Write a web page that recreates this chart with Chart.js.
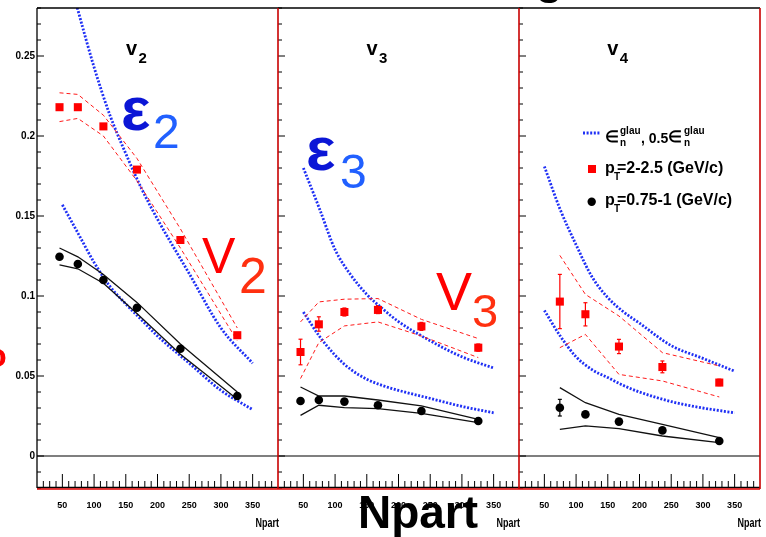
<!DOCTYPE html>
<html>
<head>
<meta charset="utf-8">
<script src="https://cdn.jsdelivr.net/npm/chart.js@4.4.0/dist/chart.umd.min.js"></script>
<style>
  html, body { margin: 0; padding: 0; background: #fff; }
  #wrap { position: relative; width: 766px; height: 537px; }
</style>
</head>
<body>
<div id="wrap"><canvas id="flow-chart" width="766" height="537"></canvas></div>
<script>
// Npart of the centrality bins; v4 has no point for the most peripheral bin
const npart6 = [45.5, 74.4, 114.7, 167.6, 236.1, 325.8];
const npart5 = [74.4, 114.7, 167.6, 236.1, 325.8];
const glauberX = [50, 75, 100, 125, 150, 175, 200, 250, 300, 350];

// v2
const v2High = [0.218, 0.218, 0.206, 0.179, 0.135, 0.0755];
const v2HighUp = [0.227, 0.226, 0.213, 0.186, 0.142, 0.080];
const v2HighDown = [0.209, 0.211, 0.200, 0.172, 0.130, 0.072];
const v2Low = [0.1245, 0.120, 0.110, 0.0927, 0.067, 0.0375];
const v2LowUp = [0.130, 0.1245, 0.1135, 0.096, 0.070, 0.040];
const v2LowDown = [0.1195, 0.117, 0.108, 0.089, 0.0636, 0.0354];
const eps2 = [0.315, 0.278, 0.243, 0.213, 0.189, 0.167, 0.148, 0.114, 0.080, 0.058];
const eps2Half = [0.157, 0.139, 0.121, 0.106, 0.095, 0.085, 0.075, 0.058, 0.041, 0.029];

// v3
const v3High = [0.065, 0.0823, 0.090, 0.0913, 0.081, 0.0677];
const v3HighErrLo = [0.057, 0.078, 0.0875, 0.089, 0.0785, 0.0655];
const v3HighErrHi = [0.073, 0.087, 0.0925, 0.094, 0.0835, 0.070];
const v3HighUp = [0.0838, 0.0963, 0.098, 0.0984, 0.0854, 0.0734];
const v3HighDown = [0.0484, 0.0709, 0.0813, 0.0838, 0.075, 0.0615];
const v3Low = [0.0344, 0.035, 0.034, 0.0317, 0.0281, 0.0219];
const v3LowUp = [0.0431, 0.0375, 0.0375, 0.035, 0.0313, 0.0229];
const v3LowDown = [0.0254, 0.0317, 0.0302, 0.0296, 0.0267, 0.0208];
const eps3 = [0.180, 0.155, 0.129, 0.113, 0.101, 0.092, 0.084, 0.072, 0.062, 0.055];
const eps3Half = [0.090, 0.075, 0.063, 0.054, 0.048, 0.044, 0.041, 0.036, 0.031, 0.027];

// v4
const v4High = [0.0965, 0.0886, 0.0684, 0.0556, 0.0459];
const v4HighErrLo = [0.0796, 0.0813, 0.064, 0.052, 0.044];
const v4HighErrHi = [0.1135, 0.0958, 0.0729, 0.0594, 0.048];
const v4HighUp = [0.1254, 0.101, 0.0875, 0.0646, 0.0563];
const v4HighDown = [0.0677, 0.076, 0.051, 0.0469, 0.0369];
const v4Low = [0.0302, 0.026, 0.0215, 0.016, 0.0094];
const v4LowErrLo = [0.025, 0.0245, 0.020, 0.0148, 0.0085];
const v4LowErrHi = [0.0354, 0.0275, 0.023, 0.0172, 0.0103];
const v4LowUp = [0.0427, 0.0333, 0.026, 0.0198, 0.0115];
const v4LowDown = [0.0167, 0.0188, 0.0171, 0.0125, 0.0083];
const eps4 = [0.181, 0.154, 0.132, 0.112, 0.099, 0.090, 0.083, 0.069, 0.061, 0.053];
const eps4Half = [0.091, 0.075, 0.062, 0.054, 0.049, 0.044, 0.040, 0.034, 0.030, 0.027];

// axis ticks
const xTickValues = [50, 100, 150, 200, 250, 300, 350];
const yTickValues = [0, 0.05, 0.1, 0.15, 0.2, 0.25];
const yTickLabels = ['0', '0.05', '0.1', '0.15', '0.2', '0.25'];

const X_MIN = 10;
const X_SPAN = 380;
const FONT = '"Liberation Sans", Arial, Helvetica, sans-serif';
const BLUE = '#1f30f5';
const RED = '#ff1a1a';
const DOTS = [2, 1.6];

// shift a panel's Npart values onto the shared x axis
function pts(xs, ys, panel) {
    return xs.map((x, i) => ({ x: x - X_MIN + panel * X_SPAN, y: ys[i] }));
}

function panelSets(p, s) {
    return [
        { data: pts(s.x, s.high, p), showLine: false, pointStyle: 'rect', pointRadius: 5.7,
          pointBackgroundColor: '#ff0000', pointBorderWidth: 0, errLow: s.highLo, errHigh: s.highHi, errColor: '#ff0000' },
        { data: pts(s.x, s.low, p), showLine: false, pointStyle: 'circle', pointRadius: 4.3,
          pointBackgroundColor: '#000', pointBorderWidth: 0, errLow: s.lowLo, errHigh: s.lowHi, errColor: '#000' },
        { data: pts(s.x, s.highUp, p), borderColor: RED, borderWidth: 1, borderDash: [4, 3], pointRadius: 0 },
        { data: pts(s.x, s.highDown, p), borderColor: RED, borderWidth: 1, borderDash: [4, 3], pointRadius: 0 },
        { data: pts(s.x, s.lowUp, p), borderColor: '#111', borderWidth: 1.3, pointRadius: 0 },
        { data: pts(s.x, s.lowDown, p), borderColor: '#111', borderWidth: 1.3, pointRadius: 0 },
        { data: pts(glauberX, s.eps, p), borderColor: BLUE, borderWidth: 2.8, borderDash: DOTS,
          pointRadius: 0, cubicInterpolationMode: 'monotone' },
        { data: pts(glauberX, s.epsHalf, p), borderColor: BLUE, borderWidth: 2.8, borderDash: DOTS,
          pointRadius: 0, cubicInterpolationMode: 'monotone' }
    ];
}

const datasets = [
    ...panelSets(0, { x: npart6, high: v2High, highUp: v2HighUp, highDown: v2HighDown,
        low: v2Low, lowUp: v2LowUp, lowDown: v2LowDown, eps: eps2, epsHalf: eps2Half }),
    ...panelSets(1, { x: npart6, high: v3High, highLo: v3HighErrLo, highHi: v3HighErrHi,
        highUp: v3HighUp, highDown: v3HighDown,
        low: v3Low, lowUp: v3LowUp, lowDown: v3LowDown, eps: eps3, epsHalf: eps3Half }),
    ...panelSets(2, { x: npart5, high: v4High, highLo: v4HighErrLo, highHi: v4HighErrHi,
        highUp: v4HighUp, highDown: v4HighDown,
        low: v4Low, lowLo: v4LowErrLo, lowHi: v4LowErrHi, lowUp: v4LowUp, lowDown: v4LowDown,
        eps: eps4, epsHalf: eps4Half })
];
datasets.forEach(d => { d.fill = false; d.tension = 0; });

function line(ctx, x1, y1, x2, y2) {
    ctx.beginPath();
    ctx.moveTo(x1, y1);
    ctx.lineTo(x2, y2);
    ctx.stroke();
}

function txt(ctx, s, x, y, font, color, align, sy) {
    ctx.save();
    ctx.font = font;
    ctx.fillStyle = color;
    ctx.textAlign = align || 'left';
    ctx.textBaseline = 'alphabetic';
    ctx.translate(x, y);
    ctx.scale(1, sy || 1);
    ctx.fillText(s, 0, 0);
    ctx.restore();
}

const panelFrame = {
    id: 'panelFrame',
    beforeDatasetsDraw(chart) {
        const { ctx, chartArea: a, scales: { y } } = chart;
        ctx.save();
        // zero line
        ctx.strokeStyle = '#000';
        ctx.lineWidth = 1.2;
        const y0 = y.getPixelForValue(0);
        line(ctx, a.left, y0, a.right, y0);
        // error bars
        chart.data.datasets.forEach((ds, i) => {
            if (!ds.errLow) return;
            const meta = chart.getDatasetMeta(i);
            ctx.strokeStyle = ds.errColor;
            ctx.lineWidth = 1.2;
            meta.data.forEach((pt, j) => {
                const yl = y.getPixelForValue(ds.errLow[j]);
                const yh = y.getPixelForValue(ds.errHigh[j]);
                line(ctx, pt.x, yl, pt.x, yh);
                line(ctx, pt.x - 2, yl, pt.x + 2, yl);
                line(ctx, pt.x - 2, yh, pt.x + 2, yh);
            });
        });
        ctx.restore();
    },
    afterDraw(chart) {
        const { ctx, chartArea: a, scales: { x, y } } = chart;
        ctx.save();
        ctx.strokeStyle = '#000';
        ctx.lineWidth = 1;
        for (let p = 0; p < 3; p++) {
            const xl = x.getPixelForValue(p * X_SPAN);
            for (let i = -2; i <= 28; i++) {
                const yp = y.getPixelForValue(i / 100);
                line(ctx, xl, yp, xl + (i % 5 === 0 ? 7 : 4), yp);
            }
            for (let n = 20; n < 390; n += 10) {
                const xp = x.getPixelForValue(n - X_MIN + p * X_SPAN);
                line(ctx, xp, a.bottom, xp, a.bottom - (n % 50 === 0 ? 14 : 7));
            }
        }
        // frame
        ctx.lineWidth = 1.3;
        line(ctx, a.left, a.top, a.right, a.top);
        line(ctx, a.left, a.top, a.left, a.bottom);
        line(ctx, a.left, a.bottom - 0.5, a.right, a.bottom - 0.5);
        ctx.strokeStyle = '#c80000';
        ctx.lineWidth = 1.6;
        for (let p = 1; p <= 3; p++) {
            const xb = x.getPixelForValue(p * X_SPAN);
            line(ctx, xb, a.top, xb, a.bottom + 1);
        }
        ctx.strokeStyle = '#e00000';
        ctx.lineWidth = 1.5;
        line(ctx, a.left, a.bottom + 1, a.right, a.bottom + 1);

        // panel titles
        [['2', 0], ['3', 1], ['4', 2]].forEach(([n, p]) => {
            const x0 = 127 + p * 240.6;
            txt(ctx, 'v', x0 - 1, 55, 'bold 20px ' + FONT, '#000');
            txt(ctx, n, x0 + 11.5, 63, 'bold 15px ' + FONT, '#000');
        });

        // big annotations
        txt(ctx, '\u03b5', 121, 130, 'bold 62px ' + FONT, '#0b16d6');
        txt(ctx, '2', 153, 148, '48px ' + FONT, '#2160ff');
        txt(ctx, 'V', 202, 273, '50px ' + FONT, '#ff0000');
        txt(ctx, '2', 239, 293, '50px ' + FONT, '#ff3010');
        txt(ctx, '\u03b5', 306, 170, 'bold 62px ' + FONT, '#0b16d6');
        txt(ctx, '3', 340, 188, '48px ' + FONT, '#2160ff');
        txt(ctx, 'V', 436, 310, '54px ' + FONT, '#ff0000');
        txt(ctx, '3', 472, 327, '47px ' + FONT, '#ff3010');

        // legend
        ctx.strokeStyle = BLUE;
        ctx.lineWidth = 2.8;
        ctx.setLineDash(DOTS);
        line(ctx, 583, 133, 601, 133);
        ctx.setLineDash([]);
        txt(ctx, '\u2208', 605, 142, 'bold 16px ' + FONT, '#000');
        txt(ctx, 'glau', 620, 134, 'bold 10px ' + FONT, '#000');
        txt(ctx, 'n', 620, 146, 'bold 10px ' + FONT, '#000');
        txt(ctx, ', 0.5', 641, 143, 'bold 14px ' + FONT, '#000');
        txt(ctx, '\u2208', 668, 142, 'bold 16px ' + FONT, '#000');
        txt(ctx, 'glau', 684, 134, 'bold 10px ' + FONT, '#000');
        txt(ctx, 'n', 684, 146, 'bold 10px ' + FONT, '#000');

        ctx.fillStyle = '#ff0000';
        ctx.fillRect(588, 165, 8, 8);
        txt(ctx, 'p', 605, 173, 'bold 16px ' + FONT, '#000');
        txt(ctx, 'T', 614, 180, 'bold 10px ' + FONT, '#000');
        txt(ctx, '=2-2.5 (GeV/c)', 617, 173, 'bold 16px ' + FONT, '#000');

        ctx.fillStyle = '#000';
        ctx.beginPath();
        ctx.arc(591.7, 201.7, 4.2, 0, Math.PI * 2);
        ctx.fill();
        txt(ctx, 'p', 605, 205, 'bold 16px ' + FONT, '#000');
        txt(ctx, 'T', 614, 212, 'bold 10px ' + FONT, '#000');
        txt(ctx, '=0.75-1 (GeV/c)', 617, 205, 'bold 16px ' + FONT, '#000');

        // axis titles
        for (let p = 1; p <= 3; p++) {
            txt(ctx, 'Npart', x.getPixelForValue(p * X_SPAN) + 1, 527, 'bold 9px ' + FONT, '#000', 'right', 1.35);
        }
        txt(ctx, 'Npart', 418, 528, 'bold 46px ' + FONT, '#000', 'center');

        // pieces of the surrounding slide cut by the crop
        txt(ctx, 'g', 536, -6, 'bold 44px ' + FONT, '#000');
        txt(ctx, 'o', -14, 367, 'bold 34px ' + FONT, '#ff0000');
        ctx.restore();
    }
};

new Chart(document.getElementById('flow-chart'), {
    type: 'line',
    data: { datasets: datasets },
    options: {
        responsive: false,
        animation: false,
        events: [],
        layout: { padding: { top: 8, right: 6, left: 0, bottom: 0 } },
        plugins: { legend: { display: false }, tooltip: { enabled: false } },
        scales: {
            x: {
                type: 'linear',
                min: 0,
                max: 3 * X_SPAN,
                afterBuildTicks: (scale) => {
                    const t = [];
                    for (let p = 0; p < 3; p++) {
                        xTickValues.forEach(v => t.push({ value: v - X_MIN + p * X_SPAN }));
                    }
                    scale.ticks = t;
                },
                afterFit: (scale) => { scale.height = 49; },
                ticks: {
                    autoSkip: false,
                    maxRotation: 0,
                    minRotation: 0,
                    padding: 12,
                    color: '#000',
                    font: { family: FONT, size: 9, weight: 'bold' },
                    callback: (value, index) => xTickValues[index % xTickValues.length]
                },
                grid: { display: false, drawTicks: false },
                border: { display: false }
            },
            y: {
                type: 'linear',
                min: -0.02,
                max: 0.28,
                afterBuildTicks: (scale) => {
                    scale.ticks = yTickValues.map(v => ({ value: v }));
                },
                afterFit: (scale) => { scale.width = 37; },
                ticks: {
                    padding: 2,
                    color: '#000',
                    font: { family: FONT, size: 10, weight: 'bold' },
                    callback: (value, index) => yTickLabels[index]
                },
                grid: { display: false, drawTicks: false },
                border: { display: false }
            }
        }
    },
    plugins: [panelFrame]
});
</script>
</body>
</html>
